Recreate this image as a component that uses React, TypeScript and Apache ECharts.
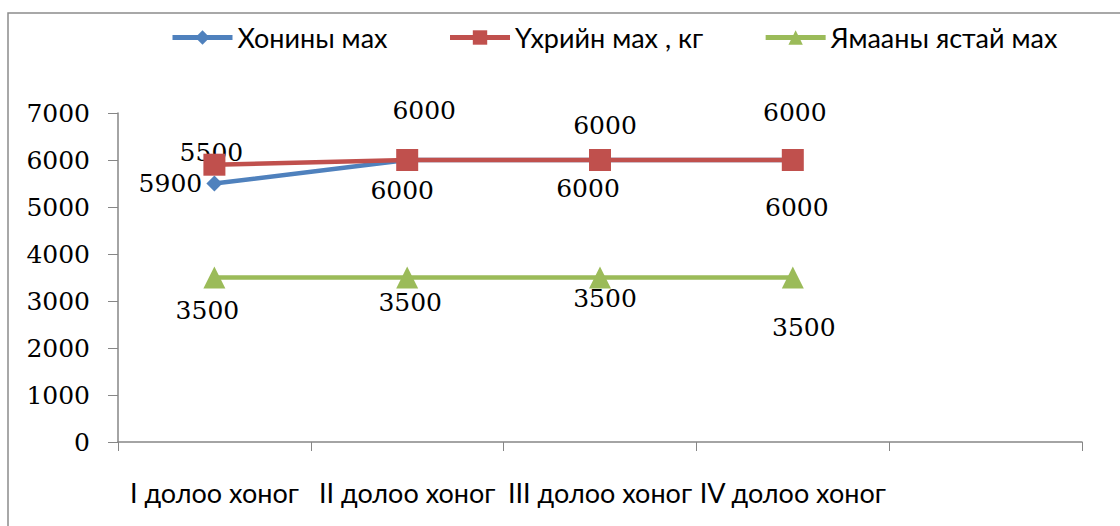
import React, { useEffect, useRef } from "react";
import * as echarts from "echarts";

const categories = ["I долоо хоног", "II долоо хоног", "III долоо хоног", "IV долоо хоног", ""];
const seriesNames = ["Хонины мах", "Үхрийн мах , кг", "Ямааны ястай мах"];
const sheepValues = [5500, 6000, 6000, 6000];
const beefValues = [5900, 6000, 6000, 6000];
const goatValues = [3500, 3500, 3500, 3500];
const yTicks = { min: 0, max: 7000, interval: 1000 };

// label offsets (style only)
const sheepLabelOffsets = [[-3, -31], [-5, 30], [-12, 28], [4, 47]];
const beefLabelOffsets = [[-44, 19], [17, -50], [5, -35], [2, -48]];
const goatLabelOffsets = [[-7, 33], [3, 25], [5, 21], [11, 50]];

const colors = ["#4F81BD", "#C0504D", "#9BBB59"];
const numFont = "DejaVu Serif";
const textFont = "Lato";

export default function App() {
  const ref = useRef<HTMLDivElement>(null);
  useEffect(() => {
    if (!ref.current) return;
    const chart = echarts.init(ref.current, null, { renderer: "svg" });
    const labelCfg = {
      show: true,
      position: "inside",
      color: "#000",
      fontFamily: numFont,
      fontSize: 25,
    };
    const symbols = ["diamond", "rect", "triangle"];
    const sizes = [16, 22, 22];
    const values = [sheepValues, beefValues, goatValues];
    const offsets = [sheepLabelOffsets, beefLabelOffsets, goatLabelOffsets];
    chart.setOption({
      animation: false,
      backgroundColor: "#fff",
      graphic: [
        {
          type: "rect",
          shape: { x: 8, y: 13, width: 1300, height: 700 },
          style: { fill: "none", stroke: "#8c8c8c", lineWidth: 1.5 },
          silent: true,
          z: -10,
        },
      ],
      legend: {
        top: 19,
        left: 165,
        itemWidth: 60,
        itemHeight: 18,
        itemGap: 60,
        data: seriesNames,
        lineStyle: { width: 5 },
        textStyle: {
          fontFamily: textFont,
          fontSize: 27,
          color: "#000",
          padding: [34, 0, 0, 0],
        },
      },
      grid: { left: 118, right: 38, top: 113, bottom: 84 },
      xAxis: {
        type: "category",
        data: categories,
        boundaryGap: true,
        axisLine: { lineStyle: { color: "#868686", width: 1.5 } },
        axisTick: { show: true, length: 9, alignWithLabel: false, lineStyle: { color: "#868686" } },
        axisLabel: {
          fontFamily: textFont,
          fontSize: 27,
          color: "#000",
          margin: 37,
          interval: 0,
        },
        splitLine: { show: false },
      },
      yAxis: {
        type: "value",
        min: yTicks.min,
        max: yTicks.max,
        interval: yTicks.interval,
        axisLine: { show: true, lineStyle: { color: "#868686", width: 1.5 } },
        axisTick: { show: true, length: 10, lineStyle: { color: "#868686" } },
        axisLabel: {
          fontFamily: numFont,
          fontSize: 25,
          color: "#000",
          margin: 28,
          formatter: (v: number) => String(v),
        },
        splitLine: { show: false },
      },
      series: seriesNames.map((name, i) => ({
        name,
        type: "line",
        data: values[i],
        symbol: symbols[i],
        symbolSize: sizes[i],
        color: colors[i],
        lineStyle: { width: 4.5, color: colors[i] },
        itemStyle: { color: colors[i] },
        label: labelCfg,
        labelLayout: (p: any) => {
          const o = offsets[i][p.dataIndex] || [0, 0];
          return { dx: o[0], dy: o[1], hideOverlap: false };
        },
        z: 2 + i,
      })),
    });
    return () => chart.dispose();
  }, []);
  return (
    <div
      ref={ref}
      style={{ position: "fixed", left: 0, top: 0, width: 1120, height: 526, background: "#fff" }}
    />
  );
}
